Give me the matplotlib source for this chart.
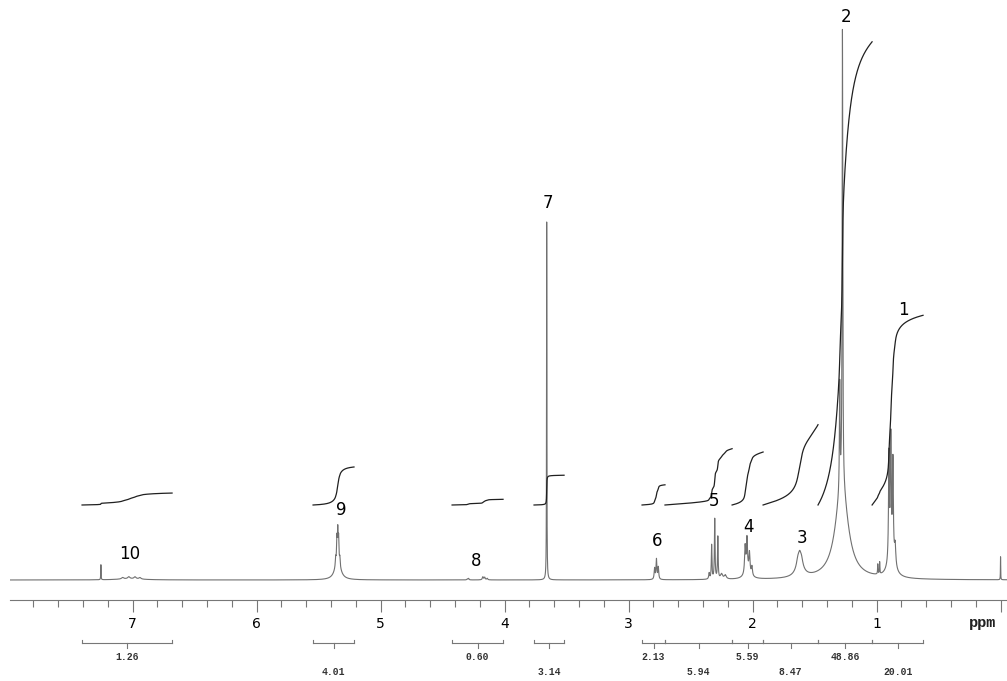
import numpy as np
import matplotlib
matplotlib.use("Agg")
import matplotlib.pyplot as plt
from matplotlib.ticker import MultipleLocator, FixedLocator, FixedFormatter

# peak list: shift (ppm), height, half width (ppm)
peak_ppm = [7.255, 7.08, 7.03, 6.98, 6.94, 7.02,
            5.362, 5.352, 5.345, 5.338, 5.328, 5.345,
            4.30, 4.29, 4.175, 4.16, 4.14,
            3.66,
            2.79, 2.775, 2.76,
            2.35, 2.33, 2.305, 2.28, 2.25, 2.22,
            2.06, 2.045, 2.025, 2.005, 2.04,
            1.635, 1.62, 1.605, 1.62,
            1.297, 1.275, 1.28,
            0.99, 0.975,
            0.90, 0.885, 0.868, 0.85, 0.88,
            0.0]
peak_height = [15, 1.5, 2, 2, 1.5, 1.2,
               8, 22, 28, 22, 8, 20,
               1, 1.5, 3, 2.5, 1.5,
               358,
               11, 20, 12,
               6, 34, 60, 42, 5, 4,
               27, 33, 20, 9, 7,
               6, 8, 6, 14,
               105, 455, 94,
               10, 12,
               105, 115, 95, 20, 22,
               23]
peak_width = [0.0015, 0.01, 0.01, 0.01, 0.01, 0.12,
              0.003, 0.003, 0.003, 0.003, 0.003, 0.025,
              0.004, 0.004, 0.005, 0.005, 0.005,
              0.0015,
              0.004, 0.004, 0.004,
              0.004, 0.003, 0.003, 0.003, 0.01, 0.01,
              0.005, 0.005, 0.005, 0.005, 0.03,
              0.012, 0.012, 0.012, 0.035,
              0.003, 0.003, 0.06,
              0.002, 0.002,
              0.004, 0.004, 0.004, 0.006, 0.03,
              0.0012]

# integral regions (ppm), values and label row
int_start = [7.407, 5.544, 4.423, 3.762, 2.891, 2.706, 2.165, 1.915, 1.472, 1.036]
int_end = [6.681, 5.214, 4.012, 3.520, 2.706, 2.165, 1.915, 1.472, 1.036, 0.625]
int_value = [1.26, 4.01, 0.60, 3.14, 2.13, 5.94, 5.59, 8.47, 48.86, 20.01]
int_row = [0, 1, 0, 1, 0, 1, 0, 1, 0, 1]

# peak assignment labels
lab_text = ["1", "2", "3", "4", "5", "6", "7", "8", "9", "10"]
lab_ppm = [0.786, 1.246, 1.601, 2.036, 2.310, 2.770, 3.649, 4.230, 5.319, 7.020]
lab_y = [270, 563, 42, 53, 79, 39, 377, 19, 70, 26]

xmin, xmax = 7.988, -0.052

ppm = np.linspace(8.0, -0.06, 60000)
spec = np.zeros_like(ppm)
for c, h, w in zip(peak_ppm, peak_height, peak_width):
    spec += h * w**2 / ((ppm - c)**2 + w**2)

fig = plt.figure(figsize=(10.07, 6.81), dpi=100)
ax = fig.add_axes([10 / 1007, 0, 997 / 1007, 1])
ax.set_xlim(xmin, xmax)
ax.set_ylim(-101, 580)
ax.axis("off")

ax.plot(ppm, spec, color="#707070", lw=0.8)

# integral curves
scale = 9.48
for a, b, v in zip(int_start, int_end, int_value):
    m = (ppm <= a) & (ppm >= b)
    cum = np.cumsum(spec[m])
    cum = cum / cum[-1] * v * scale
    ax.plot(ppm[m], 75 + cum, color="#202020", lw=0.9)

# integral brackets
for a, b, v, r in zip(int_start, int_end, int_value, int_row):
    ax.plot([a, b], [-63, -63], color="#777777", lw=0.8)
    ax.plot([a, a], [-63, -60], color="#777777", lw=0.8)
    ax.plot([b, b], [-63, -60], color="#777777", lw=0.8)
    mid = (a + b) / 2
    ax.plot([mid, mid], [-63, -68], color="#777777", lw=0.8)
    ax.text(mid, -77 - 15 * r, f"{v:.2f}", ha="center", va="center",
            family="Liberation Mono", weight="bold", fontsize=7, color="#333333")

for t, x, y in zip(lab_text, lab_ppm, lab_y):
    ax.text(x, y, t, ha="center", va="center", fontsize=12, color="black")

ax.text(0.149, -43, "ppm", ha="center", va="center",
        family="Liberation Mono", weight="bold", fontsize=11, color="#222222")

# ppm scale
sax = fig.add_axes([10 / 1007, (681 - 600) / 681, 997 / 1007, 0.001])
sax.set_xlim(xmin, xmax)
sax.patch.set_alpha(0)
for s in ["top", "left", "right"]:
    sax.spines[s].set_visible(False)
sax.spines["bottom"].set_color("#777777")
sax.spines["bottom"].set_linewidth(0.8)
sax.set_yticks([])
sax.xaxis.set_major_locator(FixedLocator([0, 1, 2, 3, 4, 5, 6, 7]))
sax.xaxis.set_major_formatter(FixedFormatter(["", "1", "2", "3", "4", "5", "6", "7"]))
sax.xaxis.set_minor_locator(MultipleLocator(0.2))
sax.tick_params(axis="x", which="major", length=8.5, width=0.8, color="#777777",
                labelsize=10, pad=4)
sax.tick_params(axis="x", which="minor", length=5, width=0.8, color="#777777")

fig.savefig("out.png", dpi=100)
